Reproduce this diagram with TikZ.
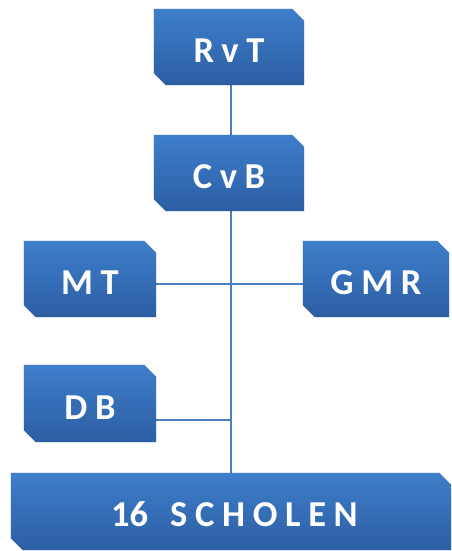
\documentclass[tikz,border=0pt]{standalone}
\usepackage{fontspec}
\newfontfamily\boxfont[LetterSpace=21]{Carlito}
\newfontfamily\plainfont{Carlito}
\usetikzlibrary{backgrounds,calc}
\definecolor{boxtop}{RGB}{62,126,203}
\definecolor{boxbot}{RGB}{44,94,163}
\definecolor{linec}{RGB}{74,126,190}
\tikzset{
  orgbox/.style={minimum width=#1, inner sep=0pt, minimum height=76pt, text=white,
     text height=31pt, text depth=0pt,
     font=\boxfont\bfseries\fontsize{36.5}{42}\selectfont},
  conn/.style={draw=linec, line width=1.3pt}
}
\newcommand\snipshape[2]{%
  (#1.north west) -- ($(#1.north east)+(-#2,0)$) -- ($(#1.north east)+(0,-#2)$) --
  (#1.south east) -- ($(#1.south west)+(#2,0)$) -- ($(#1.south west)+(0,#2)$) -- cycle}
\newcommand\paintbox[1]{%
  \foreach \s/\o in {4.5pt/0.06,3.5pt/0.08,2.5pt/0.1}{%
    \fill[black,opacity=\o,shift={(1.5pt,-2pt)}] \snipshape{#1}{12pt};}
  \shade[top color=boxtop, bottom color=boxbot] \snipshape{#1}{12pt};}
\begin{document}
\begin{tikzpicture}[x=1pt,y=-1pt]
\useasboundingbox (0,0) rectangle (451,551);
\node[orgbox=150pt] (rvt) at (229,47) {RvT};
\node[orgbox=150pt] (cvb) at (229,173) {CvB};
\node[orgbox=132pt] (mt) at (90,279) {MT};
\node[orgbox=146pt] (gmr) at (376,279) {GMR};
\node[orgbox=132pt, minimum height=77pt] (db) at (90,403.5) {DB};
\node[orgbox=440pt, minimum height=77pt, text height=29pt] (sch) at (231,511.5)
  {\hspace*{7pt}{\plainfont 16}\hspace{22pt}SCHOLEN};
\coordinate (j1) at (231,284);
\coordinate (j2) at (231,420);
\begin{pgfonlayer}{background}
  \draw[conn] (rvt.south -| j1) -- (sch.north -| j1);
  \draw[conn] (mt.east |- j1) -- (gmr.west |- j1);
  \draw[conn] (db.east |- j2) -- (j2);
  \paintbox{rvt}\paintbox{cvb}\paintbox{mt}\paintbox{gmr}\paintbox{db}\paintbox{sch}
\end{pgfonlayer}
\end{tikzpicture}
\end{document}
